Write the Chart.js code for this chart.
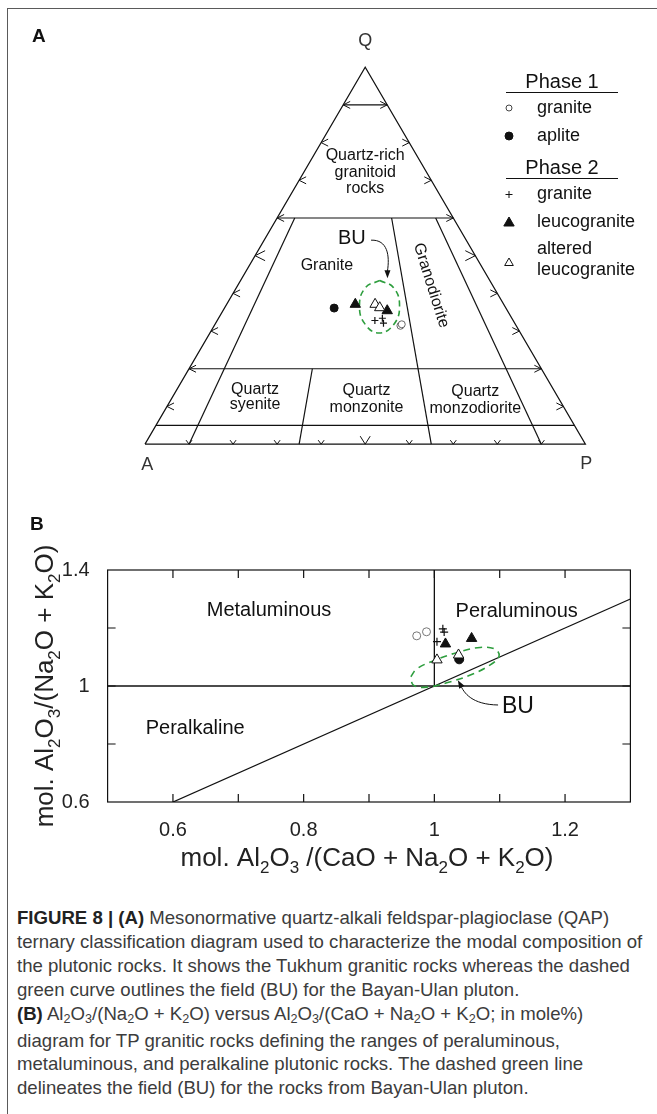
<!DOCTYPE html>
<html>
<head>
<meta charset="utf-8">
<script src="https://cdn.jsdelivr.net/npm/chart.js@4.4.0/dist/chart.umd.min.js"></script>
<style>
  body { margin: 0; background: #fff; }
  #page { position: relative; width: 657px; height: 1114px; overflow: hidden; font-family: "Liberation Sans", Arial, sans-serif; }
  #frame { position: absolute; left: 7px; top: 8px; width: 800px; height: 1200px; border-left: 1.5px solid #5a5a5a; border-top: 1.5px solid #5a5a5a; }
  #qapChart { position: absolute; left: 0; top: 0; }
  #acnkChart { position: absolute; left: 0; top: 490px; }
  .panel { position: absolute; font-weight: bold; font-size: 19px; line-height: 19px; color: #111; }
  #caption { position: absolute; left: 17px; top: 906px; font-size: 18.6px; line-height: 23.9px; color: #3c3c3c; white-space: nowrap; }
  #caption b { color: #222; }
  #caption sub { font-size: 0.68em; vertical-align: baseline; position: relative; top: 0.28em; }
</style>
</head>
<body>
<div id="page">
  <div id="frame"></div>
  <canvas id="qapChart" width="657" height="490"></canvas>
  <canvas id="acnkChart" width="657" height="390"></canvas>
  <div class="panel" style="left:32px; top:26px;">A</div>
  <div class="panel" style="left:30px; top:514px;">B</div>
  <div id="caption">
    <b>FIGURE 8 | (A)</b> Mesonormative quartz-alkali feldspar-plagioclase (QAP)<br>
    ternary classification diagram used to characterize the modal composition of<br>
    the plutonic rocks. It shows the Tukhum granitic rocks whereas the dashed<br>
    green curve outlines the field (BU) for the Bayan-Ulan pluton.<br>
    <b>(B)</b> Al<sub>2</sub>O<sub>3</sub>/(Na<sub>2</sub>O + K<sub>2</sub>O) versus Al<sub>2</sub>O<sub>3</sub>/(CaO + Na<sub>2</sub>O + K<sub>2</sub>O; in mole%)<br>
    diagram for TP granitic rocks defining the ranges of peraluminous,<br>
    metaluminous, and peralkaline plutonic rocks. The dashed green line<br>
    delineates the field (BU) for the rocks from Bayan-Ulan pluton.
  </div>
</div>
<script>
// ---------- Panel A data: QAP compositions (%) ----------
const qapPhase1Granite = [{ q: 31.4, a: 26.3, p: 42.3 }, { q: 31.8, a: 25.8, p: 42.4 }];
const qapAplite = [{ q: 36.1, a: 39.0, p: 24.9 }];
const qapPhase2Granite = [{ q: 32.8, a: 31.4, p: 35.8 }, { q: 33.4, a: 29.4, p: 37.2 }, { q: 32.1, a: 29.8, p: 38.1 }];
const qapLeucogranite = [{ q: 37.1, a: 33.7, p: 29.2 }, { q: 35.4, a: 27.3, p: 37.3 }];
const qapAltered = [{ q: 37.1, a: 29.2, p: 33.7 }, { q: 36.2, a: 28.6, p: 35.2 }];
// outline of the Bayan-Ulan (BU) field
const qapBuField = [
  { q: 43.4, a: 25.0, p: 31.6 }, { q: 41.5, a: 22.8, p: 35.7 }, { q: 36.6, a: 23.9, p: 39.5 },
  { q: 31.7, a: 27.7, p: 40.6 }, { q: 29.5, a: 32.1, p: 38.4 }, { q: 31.7, a: 34.1, p: 34.2 },
  { q: 36.6, a: 33.0, p: 30.4 }, { q: 41.5, a: 29.2, p: 29.3 }, { q: 43.4, a: 25.0, p: 31.6 }
];
const qapCorners = [{ q: 0, a: 100, p: 0 }, { q: 0, a: 0, p: 100 }, { q: 100, a: 0, p: 0 }, { q: 0, a: 100, p: 0 }];
const qLevels = [90, 60, 20, 5];          // Q % boundaries
const plagRatios = [10, 35, 65, 90];      // P/(A+P) % boundaries
const plagRatioTopQ = [60, 20, 60, 60];   // where each ratio line starts
const edgeTicks = [10, 20, 30, 40, 50, 60, 70, 80, 90];

// ---------- Panel B data: A/NK vs A/CNK ----------
const acnkPhase1Granite = [{ x: 0.973, y: 1.173 }, { x: 0.988, y: 1.187 }];
const acnkAplite = [{ x: 1.038, y: 1.092 }];
const acnkPhase2Granite = [{ x: 1.013, y: 1.197 }, { x: 1.015, y: 1.186 }, { x: 1.004, y: 1.153 }];
const acnkLeucogranite = [{ x: 1.017, y: 1.145 }, { x: 1.057, y: 1.164 }];
const acnkAltered = [{ x: 1.004, y: 1.090 }, { x: 1.037, y: 1.107 }];
const acnkBuField = [
  { x: 0.964, y: 1.032 }, { x: 0.973, y: 1.059 }, { x: 0.999, y: 1.087 }, { x: 1.034, y: 1.115 },
  { x: 1.070, y: 1.133 }, { x: 1.093, y: 1.127 }, { x: 1.099, y: 1.103 }, { x: 1.085, y: 1.072 },
  { x: 1.055, y: 1.038 }, { x: 1.019, y: 1.011 }, { x: 0.988, y: 0.996 }, { x: 0.968, y: 1.003 },
  { x: 0.964, y: 1.032 }
];
const acnkHorizontal = [{ x: 0.5, y: 1 }, { x: 1.3, y: 1 }];
const acnkVertical = [{ x: 1, y: 1 }, { x: 1, y: 1.4 }];
const acnkDiagonal = [{ x: 0.6, y: 0.6 }, { x: 1.3, y: 1.3 }];
const acnkXLabels = ['0.6', '0.8', '1', '1.2'];
const acnkYLabels = ['0.6', '1', '1.4'];

const FAMILY = '"Liberation Sans", Arial, sans-serif';
const font = (size, bold) => (bold ? 'bold ' : '') + size + 'px ' + FAMILY;
const INK = '#111';
const GREEN = '#2e9e3e';
Chart.defaults.font.family = FAMILY;

// ternary -> cartesian (x = P + Q/2, y = Q), fractions
function toXY(c) {
  const s = c.q + c.a + c.p;
  return { x: (c.p + c.q / 2) / s, y: c.q / s };
}

function symbol(ctx, style, x, y, r, fill, stroke) {
  ctx.save();
  ctx.strokeStyle = stroke || INK;
  ctx.lineWidth = 1;
  ctx.beginPath();
  if (style === 'circle') {
    ctx.arc(x, y, r, 0, Math.PI * 2);
  } else if (style === 'triangle') {
    ctx.moveTo(x, y - r);
    ctx.lineTo(x + r * 0.866, y + r / 2);
    ctx.lineTo(x - r * 0.866, y + r / 2);
    ctx.closePath();
  } else {
    ctx.moveTo(x - r, y); ctx.lineTo(x + r, y);
    ctx.moveTo(x, y - r); ctx.lineTo(x, y + r);
  }
  if (fill && style !== 'cross') { ctx.fillStyle = fill; ctx.fill(); }
  ctx.stroke();
  ctx.restore();
}

function lineSet(data, extra) {
  return Object.assign({ data: data, showLine: true, pointRadius: 0, borderColor: INK, borderWidth: 1.2, fill: false }, extra || {});
}

// ---------- Panel A ----------
const qapDecor = {
  id: 'qapDecor',
  afterDatasetsDraw(chart) {
    const { ctx } = chart;
    const sx = chart.scales.x, sy = chart.scales.y;
    const pix = (cx, q) => ({ x: sx.getPixelForValue(cx), y: sy.getPixelForValue(q) });
    const tp = c => { const v = toXY(c); return pix(v.x, v.y); };
    ctx.save();
    ctx.strokeStyle = INK;
    ctx.lineWidth = 1;

    // arrow ticks along the three edges
    edgeTicks.forEach(t => {
      const big = t === 50;
      let s = big ? 10 : 7, w = big ? 5 : 3.5;
      let p = tp({ q: t, a: 100 - t, p: 0 });
      ctx.beginPath(); ctx.moveTo(p.x + s, p.y - w); ctx.lineTo(p.x, p.y); ctx.lineTo(p.x + s, p.y + w); ctx.stroke();
      p = tp({ q: t, a: 0, p: 100 - t });
      ctx.beginPath(); ctx.moveTo(p.x - s, p.y - w); ctx.lineTo(p.x, p.y); ctx.lineTo(p.x - s, p.y + w); ctx.stroke();
      s = big ? 8 : 4; w = big ? 5 : 3;
      p = tp({ q: 0, a: 100 - t, p: t });
      ctx.beginPath(); ctx.moveTo(p.x - w, p.y - s); ctx.lineTo(p.x, p.y); ctx.lineTo(p.x + w, p.y - s); ctx.stroke();
    });

    // field names
    ctx.fillStyle = INK;
    ctx.textAlign = 'center';
    ctx.textBaseline = 'middle';
    ctx.font = font(16);
    [['Quartz-rich', 0.5, 0.765], ['granitoid', 0.5, 0.72], ['rocks', 0.5, 0.677],
     ['Granite', 0.413, 0.474],
     ['Quartz', 0.25, 0.146], ['syenite', 0.25, 0.105],
     ['Quartz', 0.503, 0.142], ['monzonite', 0.503, 0.097],
     ['Quartz', 0.75, 0.14], ['monzodiorite', 0.75, 0.095]].forEach(l => {
      const p = pix(l[1], l[2]);
      ctx.fillText(l[0], p.x, p.y);
    });
    let g = pix(0.6496, 0.4209);
    ctx.save();
    ctx.translate(g.x, g.y);
    ctx.rotate(72.6 * Math.PI / 180);
    ctx.fillText('Granodiorite', 0, 0);
    ctx.restore();

    // corner labels
    ctx.fillStyle = '#333';
    ctx.font = font(18);
    [['Q', 0.5, 1.07], ['A', 0.005, -0.056], ['P', 1.002, -0.052]].forEach(l => {
      const p = pix(l[1], l[2]);
      ctx.fillText(l[0], p.x, p.y);
    });

    // BU label and arrow
    ctx.fillStyle = INK;
    ctx.font = font(20);
    g = pix(0.4696, 0.5456);
    ctx.fillText('BU', g.x, g.y);
    const a0 = pix(0.5133, 0.5412), c1 = pix(0.551, 0.543), c2 = pix(0.556, 0.50), a1 = pix(0.5505, 0.459);
    ctx.beginPath();
    ctx.moveTo(a0.x, a0.y);
    ctx.bezierCurveTo(c1.x, c1.y, c2.x, c2.y, a1.x, a1.y);
    ctx.stroke();
    ctx.beginPath();
    ctx.moveTo(a1.x - 3, a1.y - 1); ctx.lineTo(a1.x + 3, a1.y - 1); ctx.lineTo(a1.x, a1.y + 7); ctx.closePath();
    ctx.fill();

    // legend
    ctx.textAlign = 'center';
    ctx.font = font(20);
    ctx.fillText('Phase 1', 562, 82);
    ctx.fillText('Phase 2', 562, 168);
    ctx.beginPath();
    ctx.moveTo(506, 92.5); ctx.lineTo(618, 92.5);
    ctx.moveTo(506, 178.5); ctx.lineTo(618, 178.5);
    ctx.stroke();
    ctx.textAlign = 'left';
    ctx.font = font(18);
    ctx.fillText('granite', 537, 108);
    ctx.fillText('aplite', 537, 136);
    ctx.fillText('granite', 537, 194.5);
    ctx.fillText('leucogranite', 537, 222);
    ctx.fillText('altered', 537, 249);
    ctx.fillText('leucogranite', 537, 270.5);
    symbol(ctx, 'circle', 509, 108, 3, '#fff', '#444');
    symbol(ctx, 'circle', 509, 136, 4, INK);
    symbol(ctx, 'cross', 509, 194.5, 3.5);
    symbol(ctx, 'triangle', 509, 223, 6, INK);
    symbol(ctx, 'triangle', 509, 263, 5, '#fff');
    ctx.restore();
  }
};

const qapLines = [lineSet(qapCorners.map(toXY))]
  .concat(qLevels.map(q => lineSet([
    toXY({ q: q, a: 100 - q, p: 0 }), toXY({ q: q, a: 0, p: 100 - q })
  ])))
  .concat(plagRatios.map((r, i) => {
    const top = plagRatioTopQ[i];
    return lineSet([
      toXY({ q: top, a: (100 - top) * (100 - r) / 100, p: (100 - top) * r / 100 }),
      toXY({ q: 0, a: 100 - r, p: r })
    ]);
  }));

new Chart(document.getElementById('qapChart'), {
  type: 'scatter',
  data: {
    datasets: [
      { label: 'altered leucogranite', data: qapAltered.map(toXY), pointStyle: 'triangle', pointRadius: 6, pointBackgroundColor: '#fff', pointBorderColor: INK, pointBorderWidth: 1 },
      { label: 'leucogranite', data: qapLeucogranite.map(toXY), pointStyle: 'triangle', pointRadius: 6, pointBackgroundColor: INK, pointBorderColor: INK, pointBorderWidth: 1 },
      { label: 'granite (phase 2)', data: qapPhase2Granite.map(toXY), pointStyle: 'cross', pointRadius: 3.5, pointBorderColor: INK, pointBorderWidth: 1.2 },
      { label: 'aplite', data: qapAplite.map(toXY), pointStyle: 'circle', pointRadius: 4, pointBackgroundColor: INK, pointBorderColor: INK, pointBorderWidth: 1 },
      { label: 'granite (phase 1)', data: qapPhase1Granite.map(toXY), pointStyle: 'circle', pointRadius: 3.5, pointBackgroundColor: '#fff', pointBorderColor: '#666', pointBorderWidth: 1 },
      lineSet(qapBuField.map(toXY), { borderColor: GREEN, borderDash: [6, 4], borderWidth: 1.6, tension: 0.45 })
    ].concat(qapLines)
  },
  options: {
    responsive: false,
    animation: false,
    events: [],
    layout: { padding: 0 },
    plugins: { legend: { display: false }, tooltip: { enabled: false } },
    scales: {
      x: { type: 'linear', display: false, min: -0.31333, max: 1.14667 },
      y: { type: 'linear', display: false, min: -0.10309, max: 1.15979 }
    }
  },
  plugins: [qapDecor]
});

// ---------- Panel B ----------
function drawFormula(ctx, parts, x, y, size) {
  const sub = Math.round(size * 0.65);
  let w = 0;
  parts.forEach(p => { ctx.font = font(p[1] ? sub : size); w += ctx.measureText(p[0]).width; });
  let cx = x - w / 2;
  const base = y + size * 0.36;
  ctx.textAlign = 'left';
  ctx.textBaseline = 'alphabetic';
  parts.forEach(p => {
    ctx.font = font(p[1] ? sub : size);
    ctx.fillText(p[0], cx, p[1] ? base + size * 0.25 : base);
    cx += ctx.measureText(p[0]).width;
  });
}

const xTitleParts = [['mol. Al', 0], ['2', 1], ['O', 0], ['3', 1], [' /(CaO + Na', 0], ['2', 1], ['O + K', 0], ['2', 1], ['O)', 0]];
const yTitleParts = [['mol. Al', 0], ['2', 1], ['O', 0], ['3', 1], ['/(Na', 0], ['2', 1], ['O + K', 0], ['2', 1], ['O)', 0]];

const acnkDecor = {
  id: 'acnkDecor',
  afterDatasetsDraw(chart) {
    const { ctx, chartArea: ca } = chart;
    const sx = chart.scales.x, sy = chart.scales.y;
    const pix = (x, y) => ({ x: sx.getPixelForValue(x), y: sy.getPixelForValue(y) });
    ctx.save();
    ctx.strokeStyle = INK;
    ctx.lineWidth = 1.2;
    ctx.strokeRect(ca.left, ca.top, ca.right - ca.left, ca.bottom - ca.top);
    // inward ticks
    ctx.beginPath();
    sx.ticks.forEach(t => {
      const X = sx.getPixelForValue(t.value);
      if (X <= ca.left + 1 || X >= ca.right - 1) return;
      ctx.moveTo(X, ca.bottom); ctx.lineTo(X, ca.bottom - 8);
      ctx.moveTo(X, ca.top); ctx.lineTo(X, ca.top + 8);
    });
    sy.ticks.forEach(t => {
      const Y = sy.getPixelForValue(t.value);
      if (Y <= ca.top + 1 || Y >= ca.bottom - 1) return;
      ctx.moveTo(ca.left, Y); ctx.lineTo(ca.left + 8, Y);
      ctx.moveTo(ca.right, Y); ctx.lineTo(ca.right - 8, Y);
    });
    ctx.stroke();

    // field names
    ctx.fillStyle = INK;
    ctx.textAlign = 'center';
    ctx.textBaseline = 'middle';
    ctx.font = font(20);
    [['Metaluminous', 0.747, 1.262], ['Peraluminous', 1.126, 1.256], ['Peralkaline', 0.634, 0.854]].forEach(l => {
      const p = pix(l[1], l[2]);
      ctx.fillText(l[0], p.x, p.y);
    });
    ctx.font = font(23);
    let g = pix(1.128, 0.929);
    ctx.fillText('BU', g.x, g.y);
    // arrow to the BU field
    ctx.lineWidth = 1;
    const a0 = pix(1.0975, 0.9345), c1 = pix(1.058, 0.936), c2 = pix(1.045, 0.975), a1 = pix(1.0395, 1.006);
    ctx.beginPath();
    ctx.moveTo(a0.x, a0.y);
    ctx.bezierCurveTo(c1.x, c1.y, c2.x, c2.y, a1.x, a1.y);
    ctx.stroke();
    const tip = pix(1.036, 1.02);
    const ang = Math.atan2(tip.y - a1.y, tip.x - a1.x);
    ctx.beginPath();
    ctx.moveTo(tip.x, tip.y);
    ctx.lineTo(tip.x - 8 * Math.cos(ang) + 3 * Math.sin(ang), tip.y - 8 * Math.sin(ang) - 3 * Math.cos(ang));
    ctx.lineTo(tip.x - 8 * Math.cos(ang) - 3 * Math.sin(ang), tip.y - 8 * Math.sin(ang) + 3 * Math.cos(ang));
    ctx.closePath();
    ctx.fill();

    // axis titles with subscripts
    ctx.fillStyle = '#222';
    drawFormula(ctx, xTitleParts, (ca.left + ca.right) / 2 - 2, ca.bottom + 55, 26);
    ctx.save();
    ctx.translate(44, (ca.top + ca.bottom) / 2);
    ctx.rotate(-Math.PI / 2);
    drawFormula(ctx, yTitleParts, 0, 0, 26);
    ctx.restore();
    ctx.restore();
  }
};

new Chart(document.getElementById('acnkChart'), {
  type: 'scatter',
  data: {
    datasets: [
      { label: 'altered leucogranite', data: acnkAltered, pointStyle: 'triangle', pointRadius: 6, pointBackgroundColor: '#fff', pointBorderColor: INK, pointBorderWidth: 1 },
      { label: 'aplite', data: acnkAplite, pointStyle: 'circle', pointRadius: 4.5, pointBackgroundColor: INK, pointBorderColor: INK, pointBorderWidth: 1 },
      { label: 'leucogranite', data: acnkLeucogranite, pointStyle: 'triangle', pointRadius: 6, pointBackgroundColor: INK, pointBorderColor: INK, pointBorderWidth: 1 },
      { label: 'granite (phase 2)', data: acnkPhase2Granite, pointStyle: 'cross', pointRadius: 4, pointBorderColor: INK, pointBorderWidth: 1.2 },
      { label: 'granite (phase 1)', data: acnkPhase1Granite, pointStyle: 'circle', pointRadius: 4, pointBackgroundColor: '#fff', pointBorderColor: '#777', pointBorderWidth: 1 },
      lineSet(acnkBuField, { borderColor: GREEN, borderDash: [7, 5], borderWidth: 1.6, tension: 0.4 }),
      lineSet(acnkHorizontal, { borderWidth: 1.3 }),
      lineSet(acnkVertical, { borderWidth: 1.3 }),
      lineSet(acnkDiagonal, { borderWidth: 1.3 })
    ]
  },
  options: {
    responsive: false,
    animation: false,
    events: [],
    layout: { padding: { left: 47.6, right: 26.6, top: 80, bottom: 38 } },
    plugins: { legend: { display: false }, tooltip: { enabled: false } },
    scales: {
      x: {
        type: 'linear', min: 0.5, max: 1.3,
        grid: { display: false }, border: { display: false },
        afterFit: s => { s.height = 40; },
        ticks: {
          stepSize: 0.1, autoSkip: false, maxRotation: 0, padding: 8, color: '#222', font: { size: 20 },
          callback: v => { const s = String(Math.round(v * 10) / 10); return acnkXLabels.includes(s) ? s : ''; }
        }
      },
      y: {
        type: 'linear', min: 0.6, max: 1.4,
        grid: { display: false }, border: { display: false },
        afterFit: s => { s.width = 60; },
        ticks: {
          stepSize: 0.2, autoSkip: false, padding: 10, color: '#222', font: { size: 20 },
          callback: v => { const s = String(Math.round(v * 10) / 10); return acnkYLabels.includes(s) ? s : ''; }
        }
      }
    }
  },
  plugins: [acnkDecor]
});
</script>
</body>
</html>
